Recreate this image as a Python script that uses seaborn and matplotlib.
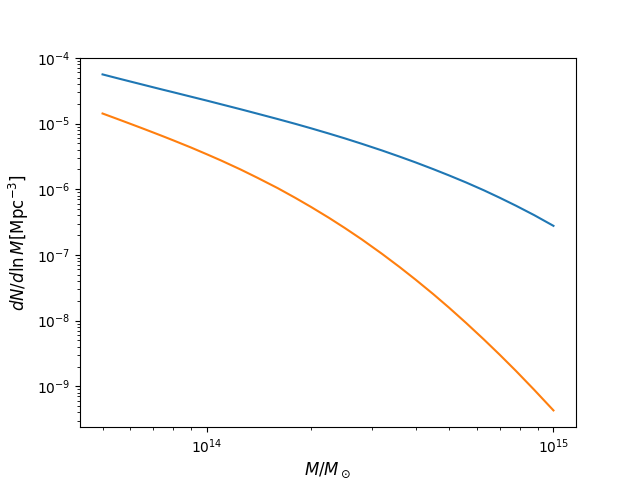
import pandas as pd
import matplotlib
matplotlib.use("Agg")
import matplotlib.pyplot as plt
import seaborn as sns

# halo mass grid [M_sun], in units of 1e13
mass_1e13 = [5, 5.5, 6, 6.5, 7, 7.5, 8, 9, 10, 11, 12.5, 14, 16, 18, 20, 22.5, 25,
             28, 32, 36, 40, 45, 50, 56, 63, 70, 78, 88, 100]

# dN/dlnM [Mpc^-3], values
dndlnm_upper = [5.59e-05, 4.91e-05, 4.37e-05, 3.93e-05, 3.56e-05, 3.25e-05, 2.99e-05,
                2.56e-05, 2.23e-05, 1.96e-05, 1.65e-05, 1.41e-05, 1.17e-05, 9.88e-06,
                8.44e-06, 7.03e-06, 5.94e-06, 4.91e-06, 3.89e-06, 3.13e-06, 2.56e-06,
                2.02e-06, 1.62e-06, 1.265e-06, 9.62e-07, 7.41e-07, 5.60e-07, 4.03e-07,
                2.77e-07]
dndlnm_lower = [1.42e-05, 1.18e-05, 9.94e-06, 8.48e-06, 7.30e-06, 6.34e-06, 5.54e-06,
                4.31e-06, 3.40e-06, 2.73e-06, 2.00e-06, 1.49e-06, 1.04e-06, 7.38e-07,
                5.35e-07, 3.67e-07, 2.57e-07, 1.72e-07, 1.04e-07, 6.52e-08, 4.21e-08,
                2.53e-08, 1.57e-08, 9.19e-09, 5.16e-09, 3.02e-09, 1.71e-09, 8.84e-10,
                4.30e-10]

mass = [m * 1e13 for m in mass_1e13]
df = pd.DataFrame({
    "M": mass * 2,
    "dndlnM": dndlnm_upper + dndlnm_lower,
    "curve": ["upper"] * len(mass) + ["lower"] * len(mass),
})

fig, ax = plt.subplots(figsize=(6.4, 4.8), dpi=100)
ax.set_xscale("log")
ax.set_yscale("log")

sns.lineplot(data=df, x="M", y="dndlnM", hue="curve",
             palette=["C0", "C1"], legend=False, ax=ax, sort=False)

ax.set_xlabel(r"$M/M_\odot$", fontsize=12)
ax.set_ylabel(r"$dN/d\ln M [\mathrm{Mpc}^{-3}]$", fontsize=12)

fig.savefig("out.png", dpi=100, facecolor="white")
plt.close(fig)
